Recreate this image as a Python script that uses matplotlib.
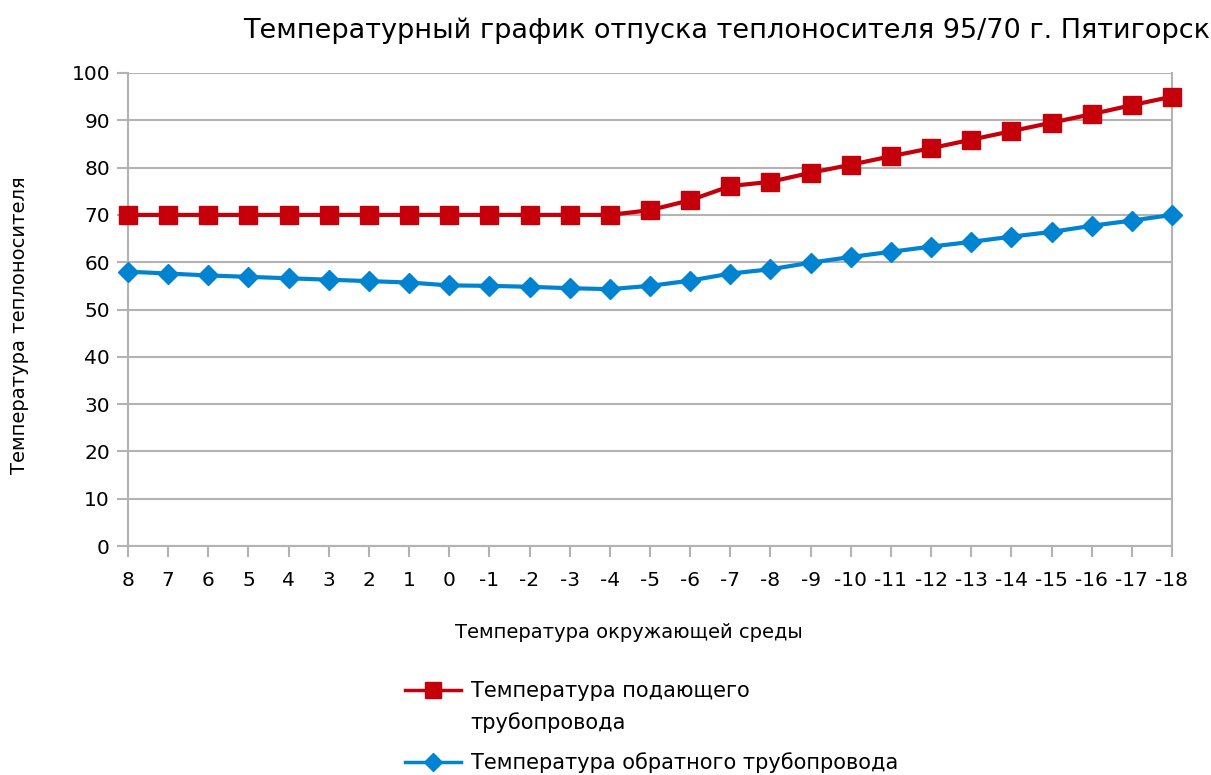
import matplotlib
matplotlib.use("Agg")
import matplotlib.pyplot as plt
from matplotlib.lines import Line2D

plt.rcParams['font.family'] = ['DejaVu Sans']

outdoor_temp = ["8", "7", "6", "5", "4", "3", "2", "1", "0", "-1", "-2", "-3", "-4",
                "-5", "-6", "-7", "-8", "-9", "-10", "-11", "-12", "-13", "-14",
                "-15", "-16", "-17", "-18"]
supply_temp = [70, 70, 70, 70, 70, 70, 70, 70, 70, 70, 70, 70, 70,
               71.0, 73.1, 76.1, 77.0, 78.9, 80.6, 82.4, 84.1, 85.9, 87.7,
               89.5, 91.3, 93.2, 95.0]
return_temp = [58.0, 57.6, 57.2, 56.9, 56.6, 56.3, 56.0, 55.7, 55.1, 55.0, 54.8, 54.5, 54.3,
               55.0, 56.1, 57.6, 58.5, 59.9, 61.1, 62.2, 63.3, 64.3, 65.4,
               66.4, 67.7, 68.8, 70.0]

title = "Температурный график отпуска теплоносителя 95/70 г. Пятигорск"
xlabel = "Температура окружающей среды"
ylabel = "Температура теплоносителя"
label_supply_1 = "Температура подающего"
label_supply_2 = "трубопровода"
label_return = "Температура обратного трубопровода"

red = "#C5000B"
blue = "#0084D1"
grid_c = "#B3B3B3"

fig = plt.figure(figsize=(12.11, 7.75), dpi=100)
ax = fig.add_axes([128/1211, 1-546/775, (1172-128)/1211, (546-73)/775])

x = list(range(len(outdoor_temp)))
ax.plot(x, supply_temp, color=red, lw=3, marker='s', markersize=13.5, zorder=3, clip_on=False)
ax.plot(x, return_temp, color=blue, lw=3, marker='D', markersize=10.5, zorder=3, clip_on=False)

ax.set_xlim(0, len(outdoor_temp) - 1)
ax.set_ylim(0, 100)
ax.set_xticks(x)
ax.set_xticklabels(outdoor_temp)
ax.set_yticks(range(0, 101, 10))

ax.grid(axis='y', color=grid_c, lw=1.5)
ax.set_axisbelow(True)
ax.spines['top'].set_visible(False)
for s in ['right', 'left', 'bottom']:
    ax.spines[s].set_color(grid_c)
    ax.spines[s].set_linewidth(1.5)
ax.tick_params(axis='both', colors=grid_c, length=8, width=1.5, labelsize=14.5, labelcolor='black')
ax.tick_params(axis='x', pad=10)
ax.tick_params(axis='y', pad=5)

fig.text(727/1211, 1-31/775, title, ha='center', va='center', fontsize=19.5)
fig.text(629/1211, 1-632/775, xlabel, ha='center', va='center', fontsize=14)
fig.text(20/1211, 1-325/775, ylabel, ha='center', va='center', fontsize=14, rotation=90)

h_red = Line2D([], [], color=red, lw=2.5, marker='s', markersize=11.5)
h_blank = Line2D([], [], color='none', lw=0)
h_blue = Line2D([], [], color=blue, lw=2.5, marker='D', markersize=9)

fig.legend([h_red, h_blank], [label_supply_1, label_supply_2], loc='upper left',
           bbox_to_anchor=(405/1211, 1-681/775), frameon=False, fontsize=15,
           handlelength=2.7, handletextpad=0.45, borderpad=0, borderaxespad=0,
           labelspacing=0.55)
fig.legend([h_blue], [label_return], loc='upper left',
           bbox_to_anchor=(405/1211, 1-752/775), frameon=False, fontsize=15,
           handlelength=2.7, handletextpad=0.45, borderpad=0, borderaxespad=0)

fig.savefig("out.png", dpi=100)
